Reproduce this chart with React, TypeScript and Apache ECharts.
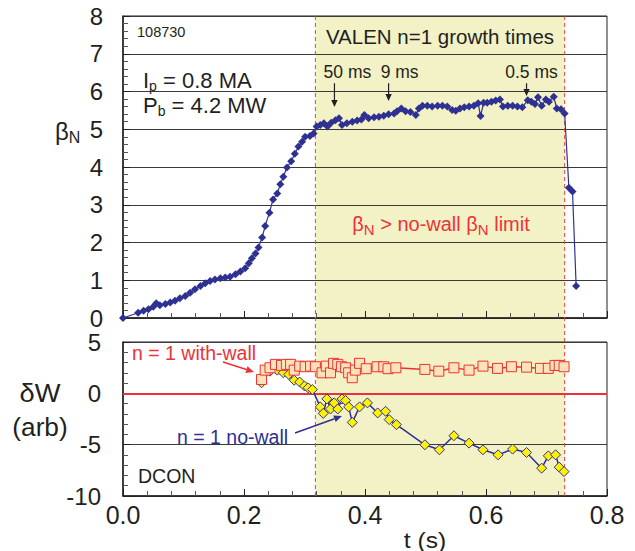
import React, { useEffect, useRef } from "react";
import * as echarts from "echarts";

// Shot 108730: normalized beta during the discharge
const T_BETA = [
  0.0, 0.025, 0.034, 0.042, 0.05, 0.055, 0.061, 0.07, 0.078, 0.086, 0.094, 0.103, 0.111, 0.119,
  0.128, 0.136, 0.144, 0.152, 0.161, 0.169, 0.177, 0.186, 0.194, 0.202, 0.208, 0.213, 0.219,
  0.224, 0.23, 0.235, 0.242, 0.248, 0.255, 0.26, 0.265, 0.271, 0.278, 0.284, 0.29, 0.296, 0.301,
  0.309, 0.315, 0.32, 0.326, 0.332, 0.338, 0.344, 0.351, 0.357, 0.362, 0.37, 0.379, 0.387, 0.394,
  0.399, 0.406, 0.415, 0.423, 0.431, 0.439, 0.448, 0.453, 0.46, 0.467, 0.475, 0.484, 0.489, 0.495,
  0.503, 0.511, 0.52, 0.528, 0.536, 0.544, 0.55, 0.557, 0.564, 0.572, 0.58, 0.587, 0.591, 0.596,
  0.602, 0.609, 0.616, 0.623, 0.628, 0.636, 0.644, 0.652, 0.66, 0.669, 0.675, 0.681, 0.686, 0.692,
  0.699, 0.704, 0.712, 0.717, 0.724, 0.73, 0.737, 0.743, 0.749,
];
const BETA_N = [
  0.0, 0.14, 0.19, 0.23, 0.3, 0.39, 0.34, 0.37, 0.41, 0.46, 0.52, 0.58, 0.67, 0.76,
  0.85, 0.92, 0.98, 1.02, 1.05, 1.07, 1.09, 1.16, 1.23, 1.32, 1.45, 1.58, 1.71,
  1.87, 2.13, 2.44, 2.79, 3.14, 3.3, 3.54, 3.74, 3.99, 4.15, 4.35, 4.54, 4.67, 4.8,
  4.82, 4.89, 5.07, 5.11, 5.16, 5.07, 5.17, 5.24, 5.29, 5.11, 5.16, 5.2, 5.23, 5.26,
  5.38, 5.29, 5.32, 5.33, 5.36, 5.4, 5.42, 5.48, 5.55, 5.48, 5.46, 5.38, 5.55, 5.62,
  5.62, 5.6, 5.62, 5.62, 5.6, 5.51, 5.49, 5.55, 5.58, 5.6, 5.62, 5.69, 5.35, 5.7,
  5.7, 5.73, 5.76, 5.79, 5.6, 5.62, 5.62, 5.6, 5.58, 5.77, 5.73, 5.67, 5.85, 5.62,
  5.79, 5.73, 5.86, 5.55, 5.53, 5.42, 3.45, 3.35, 0.85,
];

// DCON n = 1 ideal energy, with the conducting wall
const T_WITH_WALL = [
  0.229, 0.235, 0.243, 0.252, 0.262, 0.27, 0.277, 0.283, 0.292, 0.301, 0.31, 0.318, 0.329, 0.336,
  0.343, 0.348, 0.355, 0.361, 0.368, 0.373, 0.379, 0.384, 0.391, 0.402, 0.42, 0.431, 0.438, 0.451,
  0.499, 0.522, 0.547, 0.572, 0.595, 0.619, 0.642, 0.667, 0.69, 0.703, 0.714, 0.721, 0.729,
];
const DW_WITH_WALL = [
  1.35, 2.26, 2.49, 2.82, 2.72, 2.82, 2.82, 2.26, 2.65, 2.59, 2.65, 2.59, 2.0, 2.65,
  2.0, 2.92, 2.82, 2.59, 2.49, 2.0, 1.52, 2.26, 2.92, 2.4, 2.59, 2.59, 2.4, 2.49,
  2.33, 2.16, 2.49, 2.26, 2.65, 2.43, 2.59, 2.55, 2.43, 2.43, 2.72, 2.72, 2.59,
];

// DCON n = 1 ideal energy, without the wall
const T_NO_WALL = [
  0.229, 0.243, 0.255, 0.265, 0.274, 0.283, 0.292, 0.3, 0.306, 0.313, 0.326, 0.331, 0.337, 0.343,
  0.349, 0.355, 0.362, 0.368, 0.373, 0.379, 0.391, 0.404, 0.421, 0.434, 0.44, 0.452, 0.499, 0.523,
  0.547, 0.572, 0.595, 0.62, 0.644, 0.667, 0.692, 0.703, 0.715, 0.721, 0.729,
];
const DW_NO_WALL = [
  1.03, 2.16, 2.26, 2.0, 1.84, 1.28, 1.1, 0.72, 0.54, 0.37, -1.32, -1.95, -0.54, -1.52,
  -0.93, -1.52, -0.54, -0.7, -1.32, -2.83, -1.32, -0.93, -1.91, -1.75, -2.56, -3.05, -5.01, -5.5,
  -4.13, -4.85, -5.5, -5.99, -5.43, -5.76, -7.29, -6.09, -5.99, -7.19, -7.62,
];

// Window in which βN is above the no-wall limit
const T_ABOVE_LIMIT = [0.318, 0.73];

// VALEN n = 1 growth times and where they apply
const GROWTH_LABELS = ["50 ms", "9 ms", "0.5 ms"];
const T_GROWTH = [0.3495, 0.439, 0.667];
const GROWTH_TIP = [5.59, 5.75, 5.88];

const FONT = '"Liberation Sans", Arial, Helvetica, sans-serif';
const INK = "#231f20";
const BLUE = "#2e3192";
const RED = "#ec3237";
const DASH_RED = "#e8453f";
const BAND = "#f3f1c6";

const pairs = (t: number[], v: number[]) => t.map((x, i) => [x, v[i]]);

let measureCtx: CanvasRenderingContext2D | null = null;
function textWidth(text: string, size: number) {
  if (!measureCtx) measureCtx = document.createElement("canvas").getContext("2d");
  measureCtx!.font = `${size}px ${FONT}`;
  return measureCtx!.measureText(text).width;
}

function arrow(x1: number, y1: number, x2: number, y2: number, color: string, lw = 1.2, head = 8, hw = 3.5) {
  const a = Math.atan2(y2 - y1, x2 - x1);
  const c = Math.cos(a);
  const s = Math.sin(a);
  const bx = x2 - head * c;
  const by = y2 - head * s;
  return [
    { type: "line", z: 20, shape: { x1, y1, x2: bx, y2: by }, style: { stroke: color, lineWidth: lw } },
    {
      type: "polygon",
      z: 20,
      shape: { points: [[x2, y2], [bx - hw * s, by + hw * c], [bx + hw * s, by - hw * c]] },
      style: { fill: color },
    },
  ];
}

function txt(text: string, x: number, y: number, size: number, fill: string, align = "left", extra: any = {}) {
  return {
    type: "text",
    z: 20,
    x,
    y,
    ...extra,
    style: { text, fill, fontSize: size, fontFamily: FONT, align, verticalAlign: "middle" },
  };
}

// a label made of normal and subscript pieces: [text, isSubscript]
function subTxt(parts: [string, boolean][], x: number, y: number, size: number, sub: number, fill: string, align = "left") {
  const widths = parts.map(([t, s]) => textWidth(t, s ? sub : size));
  const total = widths.reduce((a, b) => a + b, 0);
  let cx = align === "center" ? x - total / 2 : x;
  const out: any[] = [];
  parts.forEach(([t, s], i) => {
    out.push(txt(t, cx, s ? y + size * 0.27 : y, s ? sub : size, fill, "left"));
    cx += widths[i];
  });
  return out;
}

const axisCommon = {
  type: "value",
  axisLine: { show: true, onZero: false, lineStyle: { color: INK, width: 1.5 } },
  axisTick: { show: true, inside: true, length: 7, lineStyle: { color: INK, width: 1 } },
  minorTick: { show: true, splitNumber: 5, length: 5, lineStyle: { color: "#555", width: 1 } },
};

export default function App() {
  const ref = useRef<HTMLDivElement>(null);

  useEffect(() => {
    document.body.style.margin = "0";
    const chart = echarts.init(ref.current!, null, { renderer: "svg" });

    const option: any = {
      animation: false,
      backgroundColor: "#ffffff",
      grid: [
        { left: 123, top: 16, width: 484, height: 302, show: true, borderColor: INK, borderWidth: 1 },
        { left: 123, top: 342, width: 484, height: 154, show: true, borderColor: INK, borderWidth: 1 },
      ],
      xAxis: [
        {
          ...axisCommon,
          gridIndex: 0,
          min: 0,
          max: 0.8,
          interval: 0.2,
          axisLabel: { show: false },
          splitLine: { show: false },
        },
        {
          ...axisCommon,
          gridIndex: 1,
          min: 0,
          max: 0.8,
          interval: 0.2,
          axisLabel: {
            show: true,
            fontSize: 25,
            fontFamily: FONT,
            color: INK,
            margin: 6,
            formatter: (v: number) => v.toFixed(1),
          },
          splitLine: { show: false },
        },
      ],
      yAxis: [
        {
          ...axisCommon,
          gridIndex: 0,
          min: 0,
          max: 8,
          interval: 1,
          axisLabel: { show: true, fontSize: 24, fontFamily: FONT, color: INK, margin: 20 },
          splitLine: { show: true, lineStyle: { color: "#3a3a3a", width: 1 } },
        },
        {
          ...axisCommon,
          gridIndex: 1,
          min: -10,
          max: 5,
          interval: 5,
          axisLabel: { show: true, fontSize: 24, fontFamily: FONT, color: INK, margin: 22 },
          splitLine: { show: true, lineStyle: { color: "#3a3a3a", width: 1 } },
        },
      ],
      series: [
        {
          name: "βN",
          type: "line",
          xAxisIndex: 0,
          yAxisIndex: 0,
          data: pairs(T_BETA, BETA_N),
          symbol: "diamond",
          symbolSize: 8,
          lineStyle: { color: BLUE, width: 1.2 },
          itemStyle: { color: BLUE },
          z: 5,
        },
        {
          name: "n = 1 no-wall",
          type: "line",
          xAxisIndex: 1,
          yAxisIndex: 1,
          data: pairs(T_NO_WALL, DW_NO_WALL),
          symbol: "diamond",
          symbolSize: 10,
          lineStyle: { color: BLUE, width: 1.5 },
          itemStyle: { color: "#fff200", borderColor: BLUE, borderWidth: 1 },
          z: 5,
          markLine: {
            silent: true,
            symbol: "none",
            label: { show: false },
            lineStyle: { color: RED, width: 2, type: "solid" },
            data: [{ yAxis: 0 }],
          },
        },
        {
          name: "n = 1 with-wall",
          type: "line",
          xAxisIndex: 1,
          yAxisIndex: 1,
          data: pairs(T_WITH_WALL, DW_WITH_WALL),
          symbol: "rect",
          symbolSize: 10,
          lineStyle: { color: RED, width: 1.5 },
          itemStyle: { color: "#fde4b8", borderColor: RED, borderWidth: 1 },
          z: 6,
        },
      ],
    };

    chart.setOption(option);

    // band and annotations placed through the axes' own scales
    const px = (t: number) => chart.convertToPixel({ xAxisIndex: 0 }, t) as number;
    const pyB = (v: number) => chart.convertToPixel({ yAxisIndex: 0 }, v) as number;
    const pyW = (v: number) => chart.convertToPixel({ yAxisIndex: 1 }, v) as number;

    const xa = px(T_ABOVE_LIMIT[0]);
    const xb = px(T_ABOVE_LIMIT[1]);
    const yTop = pyB(8);
    const yBot = pyW(-10);

    const elements: any[] = [
      { type: "rect", z: -10, shape: { x: xa, y: yTop, width: xb - xa, height: yBot - yTop }, style: { fill: BAND } },
      { type: "line", z: 1, shape: { x1: xa, y1: yTop, x2: xa, y2: yBot }, style: { stroke: DASH_RED, lineWidth: 1, lineDash: [4, 3] } },
      { type: "line", z: 1, shape: { x1: xb, y1: yTop, x2: xb, y2: yBot }, style: { stroke: DASH_RED, lineWidth: 1, lineDash: [4, 3] } },
      txt("108730", 137, 32, 14.5, INK),
      txt("VALEN n=1 growth times", 440, 36, 20.5, INK, "center"),
      ...subTxt([["I", false], ["p", true], [" = 0.8 MA", false]], 143, 80, 22, 14, INK),
      ...subTxt([["P", false], ["b", true], [" = 4.2 MW", false]], 143, 105, 22, 14, INK),
      ...subTxt(
        [["β", false], ["N", true], [" > no-wall β", false], ["N", true], [" limit", false]],
        441, 224, 20, 15, RED, "center"
      ),
      ...subTxt([["β", false], ["N", true]], 55, 131, 24, 16, INK),
      txt("δW", 40, 393, 26, INK, "center", { scaleX: 1.05 }),
      txt("(arb)", 40, 427, 25, INK, "center", { scaleX: 1.05 }),
      txt("t (s)", 425, 540, 22, INK, "center", { scaleX: 1.12 }),
      txt("n = 1 with-wall", 132, 353, 19.5, RED),
      txt("n = 1 no-wall", 177, 437, 19.5, BLUE),
      txt("DCON", 138, 476, 19.5, INK),
      ...arrow(223, 362, 254, 372, RED, 1.5, 8, 3.5),
      ...arrow(295, 433, 342, 416, BLUE, 1.5, 8, 3.5),
    ];

    GROWTH_LABELS.forEach((label, i) => {
      const x = px(T_GROWTH[i]);
      elements.push(txt(label, x + (i === 0 ? 13 : i === 1 ? 11 : 5), pyB(6.52), 17.5, INK, "center"));
      elements.push(...arrow(x, pyB(6.22), x, pyB(GROWTH_TIP[i]), INK, 1.2, 7, 3.2));
    });

    chart.setOption({ graphic: { elements } });

    return () => chart.dispose();
  }, []);

  return <div ref={ref} style={{ position: "fixed", left: 0, top: 0, width: 635, height: 551 }} />;
}
